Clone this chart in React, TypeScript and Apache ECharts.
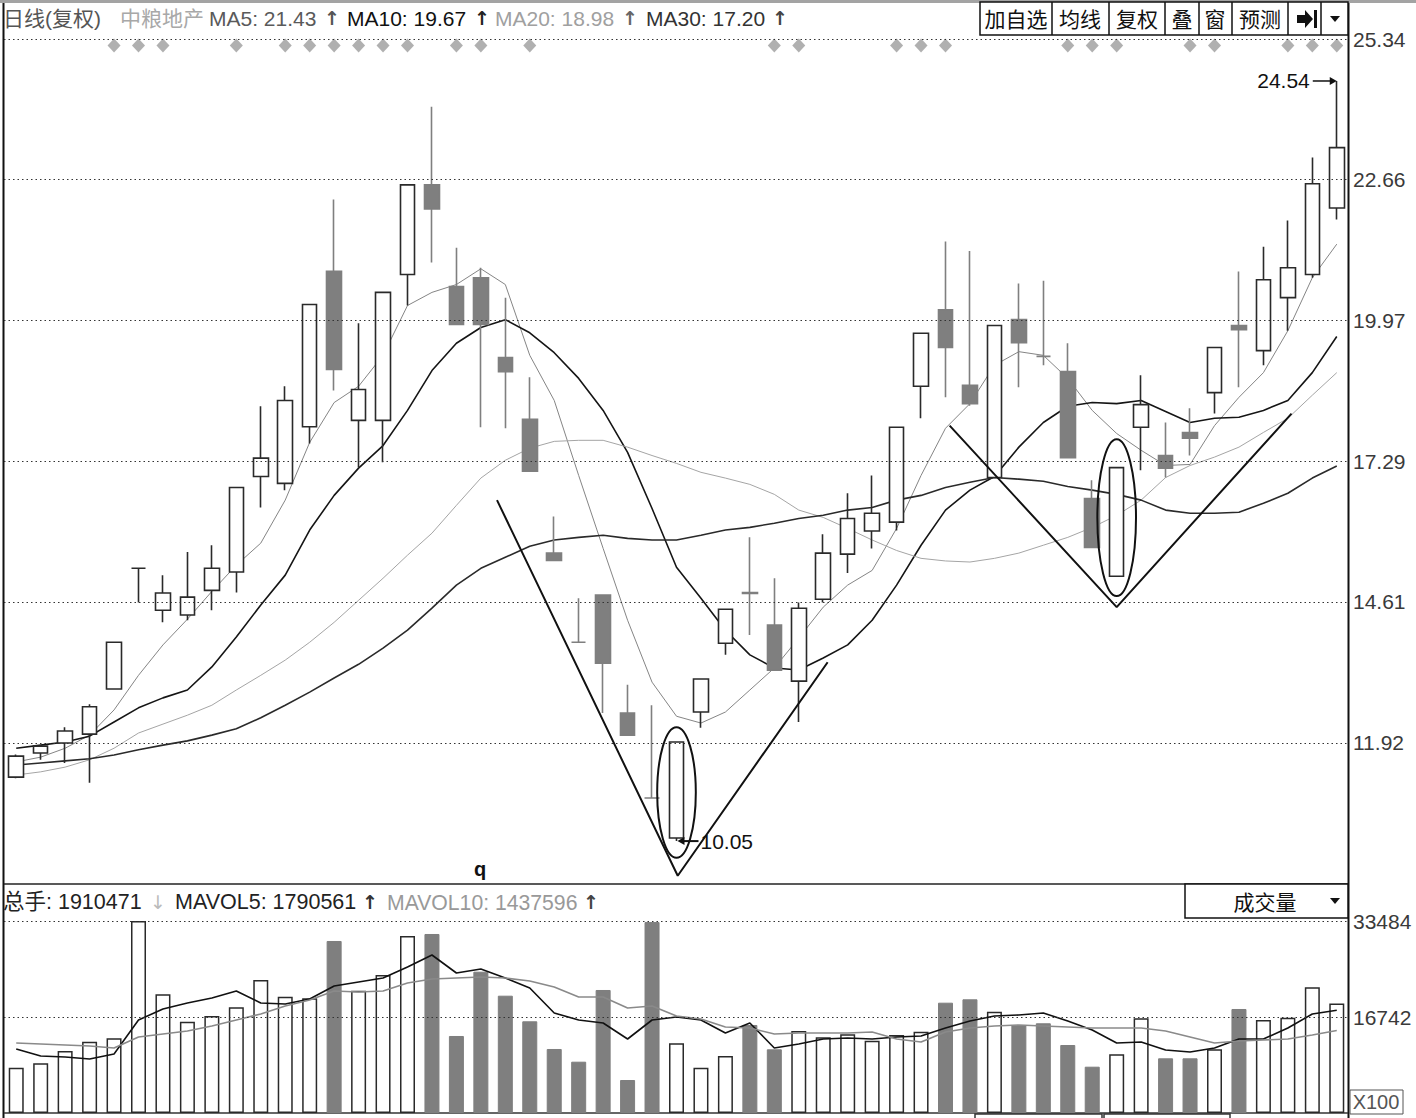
import React, { useEffect, useRef } from 'react';
import * as echarts from 'echarts';

const FONT = '"Liberation Sans", Arial, "Noto Sans CJK SC", sans-serif';

// ---------- data ----------
const categories = Array.from({ length: 55 }, (_, i) => String(i + 1));

const opens = [11.27, 11.73, 11.92, 12.09, 12.95, 15.25, 14.45, 14.36, 14.83, 15.18,
  17.00, 16.87, 17.95, 20.91, 18.07, 18.07, 20.85, 22.56, 20.62, 20.79,
  19.27, 18.09, 15.54, 13.84, 14.74, 12.49, 10.87, 10.11, 12.51, 13.82,
  14.79, 14.17, 13.10, 14.66, 15.52, 15.96, 16.13, 18.72, 20.18, 18.74,
  16.98, 19.99, 19.29, 19.00, 16.58, 15.10, 17.94, 17.40, 17.84, 18.60,
  19.88, 19.40, 20.41, 20.85, 22.12];
const closes = [11.67, 11.86, 12.15, 12.61, 13.84, 15.25, 14.78, 14.70, 15.25, 16.79,
  17.35, 18.45, 20.28, 19.04, 18.66, 20.51, 22.56, 22.10, 19.90, 19.90,
  19.00, 17.10, 15.40, 13.84, 13.44, 12.07, 10.87, 11.94, 13.14, 14.47,
  14.77, 13.31, 14.49, 15.54, 16.20, 16.30, 17.94, 19.73, 19.46, 18.39,
  19.88, 19.55, 19.29, 17.36, 15.65, 17.17, 18.37, 17.16, 17.73, 19.46,
  19.80, 20.75, 20.98, 22.58, 23.27];
const lows = [11.25, 11.60, 11.54, 11.16, 12.95, 14.60, 14.22, 14.26, 14.45, 14.79,
  16.41, 16.74, 17.63, 18.64, 17.17, 17.27, 20.26, 21.08, 19.90, 17.94,
  17.92, 17.10, 15.40, 13.84, 12.49, 12.07, 10.87, 10.05, 12.21, 13.60,
  13.98, 13.31, 12.32, 14.60, 15.16, 15.63, 15.97, 18.11, 18.51, 18.35,
  16.98, 18.70, 19.12, 17.36, 15.65, 15.10, 17.12, 16.98, 17.40, 18.20,
  18.70, 19.12, 19.78, 20.79, 21.90];
const highs = [11.70, 11.88, 12.22, 12.66, 13.84, 15.25, 15.12, 15.56, 15.69, 16.79,
  18.34, 18.72, 20.28, 22.28, 19.92, 20.51, 22.56, 24.05, 21.36, 20.98,
  20.41, 18.89, 16.24, 14.68, 14.74, 13.03, 12.64, 11.94, 13.14, 14.47,
  15.84, 15.06, 14.60, 15.90, 16.68, 17.02, 17.94, 19.73, 21.48, 21.30,
  19.88, 20.68, 20.73, 19.54, 16.93, 17.17, 18.93, 18.03, 18.30, 19.46,
  20.91, 21.38, 21.88, 23.08, 24.54];

const ma5 = [11.56, 11.65, 11.82, 12.07, 12.55, 13.21, 13.79, 14.28, 14.81, 15.31,
  15.73, 16.55, 17.65, 18.41, 18.72, 19.31, 20.26, 20.51, 20.66, 20.96,
  20.66, 19.31, 18.45, 17.02, 15.63, 14.26, 13.08, 12.43, 12.30, 12.51,
  12.93, 13.35, 13.92, 14.51, 14.93, 15.21, 16.01, 17.02, 17.92, 18.39,
  19.12, 19.38, 19.31, 18.87, 18.26, 17.82, 17.50, 17.21, 17.23, 17.97,
  18.51, 18.98, 19.78, 20.79, 21.43];
const ma10 = [11.82, 11.88, 11.94, 12.05, 12.32, 12.59, 12.78, 12.93, 13.37, 13.94,
  14.55, 15.12, 15.98, 16.64, 17.16, 17.59, 18.26, 19.02, 19.54, 19.84,
  19.99, 19.74, 19.36, 18.87, 18.26, 17.46, 16.39, 15.27, 14.68, 14.07,
  13.60, 13.35, 13.31, 13.54, 13.79, 14.26, 14.93, 15.69, 16.36, 16.74,
  17.00, 17.56, 18.03, 18.34, 18.41, 18.39, 18.45, 18.24, 18.03, 18.11,
  18.13, 18.26, 18.45, 18.98, 19.67];
const ma20 = [11.31, 11.37, 11.46, 11.60, 11.82, 12.11, 12.28, 12.45, 12.64, 12.93,
  13.21, 13.50, 13.84, 14.22, 14.64, 15.06, 15.50, 15.92, 16.45, 16.97,
  17.31, 17.54, 17.67, 17.69, 17.69, 17.56, 17.40, 17.25, 17.08, 16.97,
  16.85, 16.66, 16.36, 16.22, 16.01, 15.79, 15.59, 15.44, 15.39, 15.37,
  15.44, 15.54, 15.69, 15.84, 16.03, 16.26, 16.55, 16.98, 17.21, 17.37,
  17.56, 17.84, 18.11, 18.55, 18.98];
const ma30 = [11.50, 11.54, 11.58, 11.62, 11.69, 11.79, 11.88, 11.96, 12.07, 12.19,
  12.40, 12.64, 12.89, 13.16, 13.42, 13.73, 14.07, 14.49, 14.93, 15.25,
  15.46, 15.67, 15.79, 15.84, 15.88, 15.82, 15.79, 15.79, 15.88, 15.98,
  16.03, 16.11, 16.20, 16.26, 16.36, 16.41, 16.55, 16.64, 16.79, 16.89,
  16.98, 16.95, 16.91, 16.81, 16.74, 16.66, 16.55, 16.36, 16.30, 16.30,
  16.32, 16.49, 16.68, 16.97, 17.20];

const volumes = [7900, 8668, 10813, 12435, 13028, 33484, 20701, 15923, 16917, 18434,
  23195, 20283, 20004, 29997, 21329, 24067, 30869, 31218, 13429, 24643,
  20457, 15992, 11162, 8947, 21451, 5755, 33300, 12156, 7900, 9941,
  15347, 11109, 14301, 13202, 13725, 12609, 13603, 14179, 19236, 19829,
  17667, 15295, 15644, 11859, 8075, 10237, 16516, 9540, 9540, 11109,
  18138, 16219, 16620, 21922, 19105];
const mavol5 = [11162, 9941, 9766, 9418, 10290, 16219, 18138, 19184, 20056, 21277,
  19184, 19010, 19882, 22149, 22846, 23544, 25462, 27555, 24416, 25114,
  23544, 21800, 17440, 16219, 15696, 12906, 16219, 16742, 16219, 13952,
  15696, 11336, 12034, 12906, 13080, 12906, 13254, 13429, 14824, 16045,
  16917, 17091, 17440, 16045, 14475, 12208, 12382, 10987, 10638, 11336,
  12906, 12906, 14824, 17266, 17906];
const mavol10 = [12208, 12034, 11859, 11685, 11336, 13254, 13778, 14301, 15173, 16219,
  17266, 18661, 19707, 21277, 21102, 21277, 22672, 23370, 23544, 23718,
  23544, 23021, 21974, 20230, 20230, 18312, 18661, 16917, 16394, 14998,
  14824, 13778, 13952, 13952, 13952, 14126, 12906, 12382, 14126, 14824,
  15173, 15347, 15173, 14998, 14824, 14824, 14824, 14301, 13254, 12208,
  12557, 12731, 12906, 13603, 14376];

const priceTicks = [25.34, 22.66, 19.97, 17.29, 14.61, 11.92];
const volumeTicks = [33484, 16742];

const diamondIdx = [4, 5, 6, 9, 11, 12, 13, 14, 15, 16, 18, 19, 21, 31, 32, 36, 37, 38, 43, 44, 45, 48, 49, 52, 53, 54];
const diamondLevel = 25.215;

const patternA = [[19.66, 16.55], [27.05, 9.39], [33.18, 13.46]];
const patternB = [[38.17, 17.97], [45.0, 14.51], [52.15, 18.2]];
const ellipseMarks = [[27, 12.22, 9.73], [45, 17.71, 14.72]];
const extremeMarks = [[27, lows[27], 1], [54, highs[54], -1]];

const volHeader = ['总手: 1910471', 'MAVOL5: 1790561', 'MAVOL10: 1437596'];

// ---------- helpers ----------
const isUp = opens.map((o, i) => closes[i] > o || (closes[i] === o && (i === 0 || closes[i] >= closes[i - 1])));
const UP_LINE = '#2a2a2a';
const DOWN = '#7f7f7f';

const txt = (text: string, x: number, y: number, fill: string, size = 21, extra: any = {}) => ({
  type: 'text', x, y, silent: true,
  style: { text, fill, fontSize: size, fontFamily: FONT, verticalAlign: 'middle', align: 'left', ...extra },
});
const ln = (x1: number, y1: number, x2: number, y2: number, stroke = '#111', lineWidth = 1.5) => ({
  type: 'line', silent: true, shape: { x1, y1, x2, y2 }, style: { stroke, lineWidth },
});
const box = (x: number, y: number, w: number, h: number, stroke = '#111', fill = '#fff', lw = 1.5) => ({
  type: 'rect', silent: true, shape: { x, y, width: w, height: h }, style: { stroke, fill, lineWidth: lw },
});

function buildOption() {
  const candleData = opens.map((o, i) => {
    const up = isUp[i];
    const fill = up ? '#fff' : DOWN;
    const border = up ? UP_LINE : DOWN;
    return {
      value: [o, closes[i], lows[i], highs[i]],
      itemStyle: { color: fill, color0: fill, borderColor: border, borderColor0: border, borderColorDoji: border },
    };
  });
  const volData = volumes.map((v, i) => ({
    value: v,
    itemStyle: isUp[i]
      ? { color: '#fff', borderColor: UP_LINE, borderWidth: 1.5 }
      : { color: DOWN, borderColor: DOWN, borderWidth: 1 },
  }));

  const ARROW_FONT = '"DejaVu Sans", sans-serif';
  const headerArrow = (x: number, fill: string) => txt('↑', x, 18, fill, 19, { fontWeight: 'bold', fontFamily: ARROW_FONT });

  const graphic: any[] = [
    { type: 'rect', silent: true, shape: { x: 0, y: 0, width: 1416, height: 3 }, style: { fill: '#a3a3a3' } },
    ln(3.5, 3, 3.5, 1118, '#111', 2),
    ln(1348.5, 3, 1348.5, 1118, '#111', 2),
    ln(4, 884, 1348, 884, '#222', 1.5),
    ln(4, 1113, 1348, 1113, '#333', 1.5),
    // header
    txt('日线(复权)', 3, 18, '#555'),
    txt('中粮地产', 120, 18, '#a8a8a8'),
    txt('MA5: ' + ma5[54].toFixed(2), 209, 18, '#5a5a5a'),
    headerArrow(324, '#555'),
    txt('MA10: ' + ma10[54].toFixed(2), 347, 18, '#111'),
    headerArrow(474, '#222'),
    txt('MA20: ' + ma20[54].toFixed(2), 495, 18, '#a0a0a0'),
    headerArrow(622, '#666'),
    txt('MA30: ' + ma30[54].toFixed(2), 646, 18, '#333'),
    headerArrow(772, '#444'),
    // buttons
    box(980, 2, 368, 33),
    ln(1052, 2, 1052, 35), ln(1109, 2, 1109, 35), ln(1165, 2, 1165, 35), ln(1199, 2, 1199, 35),
    ln(1232, 2, 1232, 35), ln(1288, 2, 1288, 35), ln(1321, 2, 1321, 35),
    txt('加自选', 1016, 19, '#111', 21, { align: 'center' }),
    txt('均线', 1080, 19, '#111', 21, { align: 'center' }),
    txt('复权', 1137, 19, '#111', 21, { align: 'center' }),
    txt('叠', 1182, 19, '#111', 21, { align: 'center' }),
    txt('窗', 1215, 19, '#111', 21, { align: 'center' }),
    txt('预测', 1260, 19, '#111', 21, { align: 'center' }),
    { type: 'polygon', silent: true, shape: { points: [[1297, 15], [1305, 15], [1305, 10], [1313, 19], [1305, 28], [1305, 23], [1297, 23]] }, style: { fill: '#111' } },
    { type: 'rect', silent: true, shape: { x: 1314, y: 10, width: 3, height: 18 }, style: { fill: '#111' } },
    { type: 'polygon', silent: true, shape: { points: [[1330, 16], [1340, 16], [1335, 22]] }, style: { fill: '#111' } },
    // volume header
    txt(volHeader[0], 3, 902, '#222', 21.5),
    txt('↓', 150, 902, '#bbb', 19, { fontFamily: ARROW_FONT }),
    txt(volHeader[1], 175, 902, '#222', 21.5),
    txt('↑', 362, 902, '#333', 19, { fontWeight: 'bold', fontFamily: ARROW_FONT }),
    txt(volHeader[2], 387, 902, '#999', 21.2),
    txt('↑', 583, 902, '#444', 19, { fontWeight: 'bold', fontFamily: ARROW_FONT }),
    box(1185, 884, 163, 34),
    txt('成交量', 1265, 902, '#111', 21, { align: 'center' }),
    { type: 'polygon', silent: true, shape: { points: [[1330, 898], [1340, 898], [1335, 904]] }, style: { fill: '#111' } },
    box(1350, 1090, 53, 24, '#555', '#fff', 1),
    txt('X100', 1376, 1102, '#555', 20, { align: 'center' }),
    box(975, 1114, 127, 8, '#333', 'none', 1.5),
    box(1104, 1114, 126, 8, '#333', 'none', 1.5),
    txt('q', 474, 869, '#111', 20, { fontWeight: 'bold' }),
  ];

  const maLine = (name: string, data: number[], color: string, width: number, xi = 0, yi = 0) => ({
    name, type: 'line', data, xAxisIndex: xi, yAxisIndex: yi, symbol: 'none', showSymbol: false,
    lineStyle: { color, width }, silent: true, z: 3,
  });

  return {
    animation: false,
    backgroundColor: '#ffffff',
    textStyle: { fontFamily: FONT },
    grid: [
      { left: 4, top: 30, width: 1345, height: 853 },
      { left: 4, top: 884, width: 1345, height: 229 },
    ],
    xAxis: [
      { type: 'category', data: categories, gridIndex: 0, boundaryGap: true, show: false },
      { type: 'category', data: categories, gridIndex: 1, boundaryGap: true, show: false },
      { type: 'value', gridIndex: 0, min: -0.5, max: 54.5, show: false },
    ],
    yAxis: [
      { type: 'value', gridIndex: 0, min: 9.251, max: 25.512, show: false },
      { type: 'value', gridIndex: 1, min: 0, max: 39937, show: false },
    ],
    graphic,
    series: [
      {
        type: 'candlestick', name: 'K', xAxisIndex: 0, yAxisIndex: 0, data: candleData, barWidth: 15, z: 4,
        itemStyle: { borderWidth: 1.6 },
        markLine: {
          silent: true, symbol: ['none', 'none'], animation: false,
          lineStyle: { color: '#333', width: 1, type: [1.5, 3] },
          label: { show: true, position: 'end', distance: 4, color: '#3a3a3a', fontSize: 21, fontFamily: FONT, formatter: (p: any) => Number(p.value).toFixed(2) },
          data: priceTicks.map((v) => ({ yAxis: v })),
        },
      },
      maLine('MA5', ma5, '#858585', 1),
      maLine('MA10', ma10, '#151515', 1.6),
      maLine('MA20', ma20, '#a5a5a5', 1),
      maLine('MA30', ma30, '#2a2a2a', 1.6),
      {
        type: 'scatter', name: 'signal', xAxisIndex: 0, yAxisIndex: 0, symbol: 'diamond', symbolSize: [13, 14],
        itemStyle: { color: '#9c9c9c' }, silent: true,
        data: diamondIdx.map((i) => [i, diamondLevel]),
      },
      {
        type: 'line', name: 'patternA', xAxisIndex: 2, yAxisIndex: 0, data: patternA, symbol: 'none',
        lineStyle: { color: '#111', width: 2 }, silent: true, z: 5,
      },
      {
        type: 'line', name: 'patternB', xAxisIndex: 2, yAxisIndex: 0, data: patternB, symbol: 'none',
        lineStyle: { color: '#111', width: 2 }, silent: true, z: 5,
      },
      {
        type: 'custom', name: 'ellipses', xAxisIndex: 0, yAxisIndex: 0, data: ellipseMarks, encode: { x: 0, y: [1, 2] }, z: 6,
        renderItem: (_p: any, api: any) => {
          const a = api.coord([api.value(0), api.value(1)]);
          const b = api.coord([api.value(0), api.value(2)]);
          const w = api.size([1, 0])[0];
          return {
            type: 'ellipse',
            shape: { cx: a[0], cy: (a[1] + b[1]) / 2, rx: w * 0.79, ry: (b[1] - a[1]) / 2 },
            style: { fill: 'none', stroke: '#111', lineWidth: 2 },
          };
        },
      },
      {
        type: 'custom', name: 'extremes', xAxisIndex: 0, yAxisIndex: 0, data: extremeMarks, encode: { x: 0, y: 1 }, z: 6,
        renderItem: (_p: any, api: any) => {
          const pt = api.coord([api.value(0), api.value(1)]);
          const dir = api.value(2);
          const x = pt[0];
          const y = pt[1];
          const label = Number(api.value(1)).toFixed(2);
          const tStyle = { text: label, fill: '#111', fontSize: 21, fontFamily: FONT, verticalAlign: 'middle' };
          if (dir > 0) {
            return {
              type: 'group', children: [
                { type: 'line', shape: { x1: x + 4, y1: y, x2: x + 22, y2: y }, style: { stroke: '#111', lineWidth: 2 } },
                { type: 'polygon', shape: { points: [[x + 1, y], [x + 8, y - 4], [x + 8, y + 4]] }, style: { fill: '#111' } },
                { type: 'text', x: x + 24, y, style: { ...tStyle, align: 'left' } },
              ],
            };
          }
          return {
            type: 'group', children: [
              { type: 'line', shape: { x1: x - 24, y1: y, x2: x - 4, y2: y }, style: { stroke: '#111', lineWidth: 1.5 } },
              { type: 'polygon', shape: { points: [[x, y], [x - 7, y - 4], [x - 7, y + 4]] }, style: { fill: '#111' } },
              { type: 'text', x: x - 27, y, style: { ...tStyle, align: 'right' } },
            ],
          };
        },
      },
      {
        type: 'bar', name: 'VOL', xAxisIndex: 1, yAxisIndex: 1, data: volData, barWidth: 15, z: 2,
        markLine: {
          silent: true, symbol: ['none', 'none'], animation: false,
          lineStyle: { color: '#333', width: 1, type: [1.5, 3] },
          label: { show: true, position: 'end', distance: 4, color: '#3a3a3a', fontSize: 21, fontFamily: FONT, formatter: (p: any) => String(p.value) },
          data: volumeTicks.map((v) => ({ yAxis: v })),
        },
      },
      maLine('MAVOL5', mavol5, '#111', 1.6, 1, 1),
      maLine('MAVOL10', mavol10, '#8a8a8a', 1.6, 1, 1),
    ],
  };
}

export default function App() {
  const ref = useRef<HTMLDivElement>(null);
  useEffect(() => {
    document.body.style.margin = '0';
    const chart = echarts.init(ref.current as HTMLDivElement, null, { renderer: 'svg' });
    chart.setOption(buildOption() as any);
    return () => chart.dispose();
  }, []);
  return <div ref={ref} style={{ width: 1416, height: 1118, background: '#fff' }} />;
}
